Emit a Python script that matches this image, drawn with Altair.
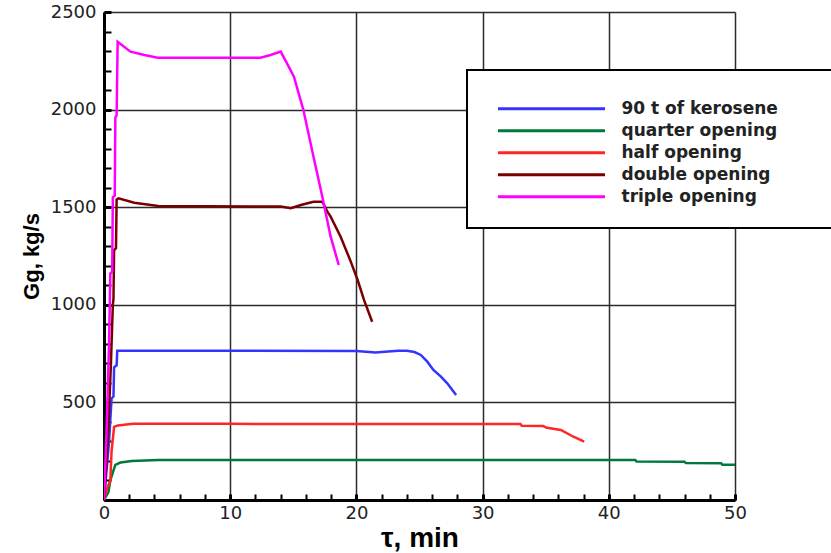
import altair as alt
import pandas as pd

# Series names and colours (legend order)
series_names = ["90 t of kerosene", "quarter opening", "half opening",
                "double opening", "triple opening"]
series_colors = ["#3434ff", "#007a3a", "#ff2626", "#7a0000", "#ff00ff"]

# Gas flow rate Gg (kg/s) against time tau (min) for each case
kerosene_t = [0, 0.4, 0.6, 0.75, 0.8, 1.0, 1.05, 5, 10, 20, 21.5, 23.3, 24.0,
              24.6, 25.1, 25.6, 26.1, 26.7, 27.2, 27.9]
kerosene_g = [0, 300, 520, 530, 680, 690, 765, 765, 765, 763, 756, 765, 765,
              758, 743, 710, 666, 632, 598, 538]

quarter_t = [0, 0.35, 0.5, 0.75, 0.9, 1.3, 2.2, 4.3, 42.1, 42.2, 46.0, 46.1,
             48.9, 49.0, 50]
quarter_g = [0, 40, 100, 150, 180, 192, 200, 205, 205, 197, 196, 189, 188,
             180, 180]

half_t = [0, 0.25, 0.5, 0.6, 0.8, 1.1, 2.3, 10, 20, 30, 33.0, 33.1, 34.8,
          35.1, 36.2, 37.2, 38.05]
half_g = [0, 60, 100, 250, 375, 382, 390, 390, 389, 389, 389, 380, 379,
          370, 359, 324, 299]

double_t = [0, 0.3, 0.55, 0.7, 0.75, 0.8, 0.95, 1.0, 1.15, 2.4, 4.3, 14.0,
            14.8, 15.6, 16.6, 17.3, 17.7, 17.96, 18.75, 19.5, 20.1, 20.6, 21.25]
double_g = [0, 300, 700, 1000, 1030, 1280, 1290, 1540, 1545, 1523, 1506, 1503,
            1495, 1511, 1528, 1528, 1477, 1452, 1349, 1230, 1127, 1025, 913]

triple_t = [0, 0.2, 0.4, 0.5, 0.65, 0.7, 0.85, 0.9, 1.0, 1.08, 2.1, 3.2, 4.25,
            12.4, 13.2, 14.0, 14.5, 15.05, 15.8, 16.6, 17.3, 17.96, 18.6]
triple_g = [0, 350, 800, 1160, 1170, 1550, 1560, 1960, 1970, 2348, 2297, 2280,
            2266, 2266, 2280, 2297, 2237, 2169, 1998, 1759, 1554, 1349, 1204]

# Axis tick positions: every tick gets a stub, labels and grid only on majors
x_ticks = list(range(0, 51, 2))
y_ticks = list(range(0, 2501, 100))

rows = []
for name, ts, gs in zip(series_names,
                        [kerosene_t, quarter_t, half_t, double_t, triple_t],
                        [kerosene_g, quarter_g, half_g, double_g, triple_g]):
    for i, (t, g) in enumerate(zip(ts, gs)):
        rows.append({"series": name, "t": t, "g": g, "step": i})
df = pd.DataFrame(rows)

W, H = 631, 488
LABEL_FONT = "DejaVu Sans"
TITLE_FONT = "Liberation Sans"

x_major = "datum.value % 10 === 0"
y_major = "datum.value % 500 === 0"

x_axis = alt.Axis(
    values=x_ticks, format="d",
    grid=True, gridColor="#2b2b2b", gridWidth=1.5,
    gridOpacity={"condition": {"test": x_major, "value": 1}, "value": 0},
    ticks=True, tickColor="black", tickSize={"expr": "-6"},
    tickWidth={"condition": {"test": x_major, "value": 3}, "value": 2},
    domainColor="black", domainWidth=3,
    labelExpr=x_major + " ? datum.label : ''",
    labelFont=LABEL_FONT, labelFontSize=18, labelColor="#222",
    labelPadding=10, labelFlush=False,
    title="τ, min", titleFont=TITLE_FONT, titleFontSize=28,
    titleFontWeight="bold", titleColor="black", titlePadding=2)

y_axis = alt.Axis(
    values=y_ticks, format="d",
    grid=True, gridColor="#2b2b2b", gridWidth=1.5,
    gridOpacity={"condition": {"test": y_major, "value": 1}, "value": 0},
    ticks=True, tickColor="black", tickSize={"expr": "-7"},
    tickWidth={"condition": {"test": y_major, "value": 3}, "value": 2},
    domainColor="black", domainWidth=3,
    labelExpr="(" + y_major + " && datum.value > 0) ? datum.label : ''",
    labelFont=LABEL_FONT, labelFontSize=18, labelColor="#222",
    labelPadding=15, labelFlush=False,
    title="Gg, kg/s", titleFont=TITLE_FONT, titleFontSize=22,
    titleFontWeight="bold", titleColor="black", titlePadding=7)

# trailing em spaces (kept from trimming by a zero-width space) widen the legend box
pad = "\u2003" * 3 + "\u200b"

chart = alt.Chart(df).mark_line(strokeWidth=2.5, clip=True).encode(
    x=alt.X("t:Q", scale=alt.Scale(domain=[0, 50], nice=False, zero=False),
            axis=x_axis),
    y=alt.Y("g:Q", scale=alt.Scale(domain=[0, 2500], nice=False),
            axis=y_axis),
    color=alt.Color("series:N", sort=series_names,
                    scale=alt.Scale(domain=series_names, range=series_colors),
                    legend=alt.Legend(
                        orient="none", legendX=363, legendY=58,
                        direction="vertical",
                        title="\u00a0", titleFontSize=6, titlePadding=2,
                        symbolType="stroke", symbolSize=11449,
                        symbolStrokeWidth=3, clipHeight=21.5, rowPadding=0,
                        padding=20, symbolOffset=9.5, labelOffset=15,
                        labelFont=LABEL_FONT, labelFontWeight="bold",
                        labelFontSize=17, labelColor="#222", labelLimit=500,
                        labelExpr="datum.label + '" + pad + "'",
                        strokeColor="black", fillColor="white")),
    order=alt.Order("step:Q"),
).properties(
    width=W, height=H,
    autosize=alt.AutoSizeParams(type="none"),
    padding={"left": 104, "top": 12, "right": 96, "bottom": 53},
    background="white",
).configure_view(strokeWidth=0).configure_legend(strokeWidth=2)

chart.save("out.html", embed_options={"renderer": "svg", "actions": False})
